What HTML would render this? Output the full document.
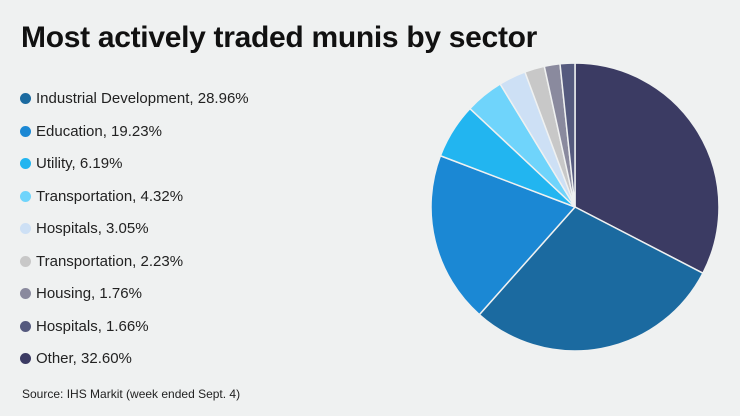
<!DOCTYPE html>
<html><head><meta charset="utf-8"><style>
body{margin:0;background:#eff1f1;}
#c{position:relative;width:740px;height:416px;background:#eff1f1;font-family:"Liberation Sans",sans-serif;overflow:hidden}
h1{position:absolute;left:21px;top:21px;margin:0;font-size:30px;font-weight:bold;color:#111;letter-spacing:-0.3px}
.src{position:absolute;left:22px;top:387px;font-size:12px;color:#222}
.leg{position:absolute;left:20px;font-size:15px;color:#222;white-space:nowrap}
.dot{display:inline-block;width:11px;height:11px;border-radius:50%;margin-right:5px;vertical-align:-1px}
</style></head><body>
<div id="c">
<h1>Most actively traded munis by sector</h1>
<div id="legend"></div>
<svg id="pie" width="740" height="416" style="position:absolute;left:0;top:0"></svg>
<div class="src">Source: IHS Markit (week ended Sept. 4)</div>
</div>
<script>
const labels=["Industrial Development","Education","Utility","Transportation","Hospitals","Transportation","Housing","Hospitals","Other"];
const values=[28.96,19.23,6.19,4.32,3.05,2.23,1.76,1.66,32.60];
const colors=["#1b6aa0","#1b88d4","#22b5f0","#6fd4fb","#cde0f5","#c8c8c8","#8a8a9e","#555a7e","#3b3b63"];
const cx=575,cy=207,r=144;
const svg=document.getElementById('pie');
const leg=document.getElementById('legend');
const total=values.reduce((a,b)=>a+b,0);
const order=[8,0,1,2,3,4,5,6,7];
let ang=0;
order.forEach(i=>{
  const a0=ang,a1=ang+values[i]/total*2*Math.PI;ang=a1;
  const x0=cx+r*Math.sin(a0),y0=cy-r*Math.cos(a0),x1=cx+r*Math.sin(a1),y1=cy-r*Math.cos(a1);
  const p=document.createElementNS('http://www.w3.org/2000/svg','path');
  p.setAttribute('d',`M${cx},${cy}L${x0},${y0}A${r},${r} 0 ${a1-a0>Math.PI?1:0} 1 ${x1},${y1}Z`);
  p.setAttribute('fill',colors[i]);p.setAttribute('stroke','#eff1f1');p.setAttribute('stroke-width','1.5');
  
  
  svg.appendChild(p);
});
labels.forEach((l,i)=>{
  const d=document.createElement('div');d.className='leg';d.style.top=(90+i*32.5)+'px';
  d.innerHTML=`<span class="dot" style="background:${colors[i]}"></span>${l}, ${values[i].toFixed(2)}%`;
  
  
  leg.appendChild(d);
});
</script>
</body></html>
